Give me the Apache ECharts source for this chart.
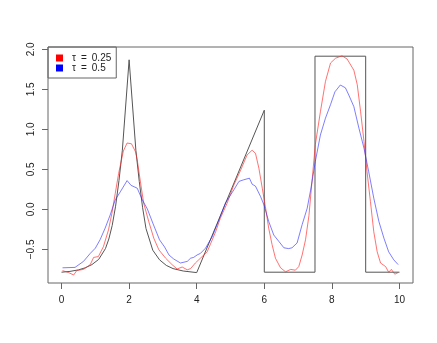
<!DOCTYPE html>
<html>
<head>
<meta charset="utf-8">
<script src="https://cdn.jsdelivr.net/npm/echarts@6/dist/echarts.min.js"></script>
<style>
  html, body { margin: 0; padding: 0; background: #fff; }
  #chart { width: 437px; height: 343px; }
</style>
</head>
<body>
<div id="chart"></div>
<script>
// true function (black)
const blackX = [0, 0.25, 0.5, 0.7, 0.9, 1.1, 1.3, 1.4, 1.5, 1.6, 1.7, 1.8, 2.0, 2.2, 2.3, 2.4, 2.5, 2.7, 2.9, 3.1, 3.3, 3.6, 4.0, 6.0, 6.0, 7.5, 7.5, 9.0, 9.0, 10.0];
const blackY = [-0.785, -0.775, -0.756, -0.73, -0.69, -0.625, -0.49, -0.37, -0.2, 0.04, 0.36, 0.74, 1.87, 0.74, 0.35, 0.02, -0.24, -0.51, -0.63, -0.7, -0.74, -0.77, -0.79, 1.24, -0.785, -0.785, 1.915, 1.915, -0.785, -0.785];

// tau = 0.25 (red)
const redX = [0.03, 0.21, 0.36, 0.45, 0.65, 0.85, 0.95, 1.09, 1.24, 1.39, 1.49, 1.59, 1.69, 1.83, 1.94, 2.07, 2.19, 2.24, 2.34, 2.43, 2.58, 2.73, 2.88, 3.08, 3.27, 3.42, 3.57, 3.72, 3.82, 3.96, 4.11, 4.31, 4.56, 4.70, 4.90, 5.10, 5.30, 5.49, 5.64, 5.74, 5.84, 5.94, 6.04, 6.13, 6.23, 6.33, 6.48, 6.63, 6.78, 6.92, 7.02, 7.12, 7.22, 7.32, 7.42, 7.51, 7.66, 7.81, 7.96, 8.11, 8.30, 8.45, 8.65, 8.75, 8.85, 8.95, 9.04, 9.14, 9.24, 9.34, 9.44, 9.59, 9.68, 9.76, 9.86, 9.96];
const redY = [-0.765, -0.79, -0.82, -0.765, -0.75, -0.69, -0.6, -0.59, -0.465, -0.256, -0.05, 0.2, 0.45, 0.73, 0.83, 0.82, 0.72, 0.62, 0.33, 0.08, -0.15, -0.36, -0.505, -0.61, -0.69, -0.745, -0.72, -0.755, -0.74, -0.67, -0.61, -0.53, -0.28, -0.11, 0.078, 0.306, 0.49, 0.68, 0.74, 0.7, 0.515, 0.265, 0.015, -0.235, -0.44, -0.61, -0.73, -0.78, -0.75, -0.76, -0.715, -0.57, -0.38, -0.08, 0.39, 0.81, 1.22, 1.6, 1.83, 1.89, 1.92, 1.88, 1.74, 1.56, 1.22, 0.85, 0.47, 0.1, -0.28, -0.53, -0.67, -0.715, -0.785, -0.75, -0.81, -0.79];

// tau = 0.5 (blue)
const blueX = [0.03, 0.40, 0.65, 0.85, 1.00, 1.14, 1.29, 1.44, 1.59, 1.74, 1.94, 2.06, 2.24, 2.39, 2.54, 2.70, 2.90, 3.05, 3.18, 3.32, 3.52, 3.57, 3.72, 3.82, 3.91, 4.01, 4.11, 4.26, 4.46, 4.65, 4.85, 5.10, 5.25, 5.39, 5.56, 5.64, 5.74, 5.89, 5.99, 6.13, 6.28, 6.43, 6.58, 6.72, 6.82, 6.97, 7.12, 7.27, 7.37, 7.51, 7.66, 7.81, 7.96, 8.09, 8.25, 8.40, 8.50, 8.65, 8.80, 8.95, 9.09, 9.24, 9.39, 9.54, 9.68, 9.83, 9.96];
const blueY = [-0.73, -0.725, -0.65, -0.55, -0.485, -0.38, -0.235, -0.07, 0.12, 0.22, 0.36, 0.3, 0.265, 0.12, 0.005, -0.17, -0.38, -0.47, -0.57, -0.62, -0.67, -0.68, -0.65, -0.61, -0.6, -0.57, -0.55, -0.485, -0.34, -0.14, 0.08, 0.245, 0.35, 0.37, 0.39, 0.315, 0.29, 0.16, 0.056, -0.15, -0.32, -0.4, -0.48, -0.49, -0.48, -0.42, -0.19, 0.015, 0.24, 0.6, 0.93, 1.14, 1.31, 1.47, 1.555, 1.52, 1.43, 1.285, 1.015, 0.765, 0.47, 0.14, -0.15, -0.36, -0.53, -0.63, -0.69];

const xTicks = [0, 2, 4, 6, 8, 10];
const yTicks = [-0.5, 0, 0.5, 1, 1.5, 2];
const legendNames = ['τ\u2002=\u20020.25', 'τ\u2002=\u20020.5'];

const pairs = (xs, ys) => xs.map((x, i) => [x, ys[i]]);
const font = '"Liberation Sans Narrow", "Liberation Sans", Arial, sans-serif';

const chart = echarts.init(document.getElementById('chart'));
chart.setOption({
  animation: false,
  grid: { left: 48, top: 47, width: 365, height: 236, show: true, borderColor: '#666', borderWidth: 1, backgroundColor: 'transparent' },
  legend: {
    data: legendNames,
    orient: 'vertical',
    left: 48, top: 47,
    padding: [6, 5, 5, 8],
    itemGap: 0,
    itemWidth: 7, itemHeight: 7,
    icon: 'rect',
    borderColor: '#666', borderWidth: 1, borderRadius: 0,
    textStyle: { fontFamily: '"Liberation Sans", Arial, sans-serif', fontSize: 10, color: '#222', padding: [0, 0, 0, 4] },
  },
  xAxis: {
    type: 'value', min: -0.4, max: 10.4,
    splitLine: { show: false },
    axisLine: { show: false, onZero: false },
    axisTick: { show: true, inside: false, length: 6, lineStyle: { color: '#666' }, customValues: xTicks },
    axisLabel: { customValues: xTicks, margin: 12, fontFamily: font, fontSize: 10, color: '#222', formatter: (v) => String(v) },
  },
  yAxis: {
    type: 'value', min: -0.92, max: 2.03,
    splitLine: { show: false },
    axisLine: { show: false, onZero: false },
    axisTick: { show: true, inside: false, length: 6, lineStyle: { color: '#666' }, customValues: yTicks },
    axisLabel: { customValues: yTicks, rotate: 90, margin: 12, fontFamily: font, fontSize: 10, color: '#222',
      formatter: (v) => (v < 0 ? '\u2212' : '') + Math.abs(v).toFixed(1) },
  },
  series: [
    { type: 'line', name: 'truth', data: pairs(blackX, blackY), showSymbol: false, lineStyle: { color: '#555', width: 1 }, itemStyle: { color: '#555' }, silent: true },
    { type: 'line', name: legendNames[0], data: pairs(redX, redY), showSymbol: false, lineStyle: { color: 'rgba(255,40,40,0.65)', width: 1 }, itemStyle: { color: '#ff0000' } },
    { type: 'line', name: legendNames[1], data: pairs(blueX, blueY), showSymbol: false, lineStyle: { color: 'rgba(40,40,255,0.6)', width: 1 }, itemStyle: { color: '#0000ff' } },
  ],
});
</script>
</body>
</html>
